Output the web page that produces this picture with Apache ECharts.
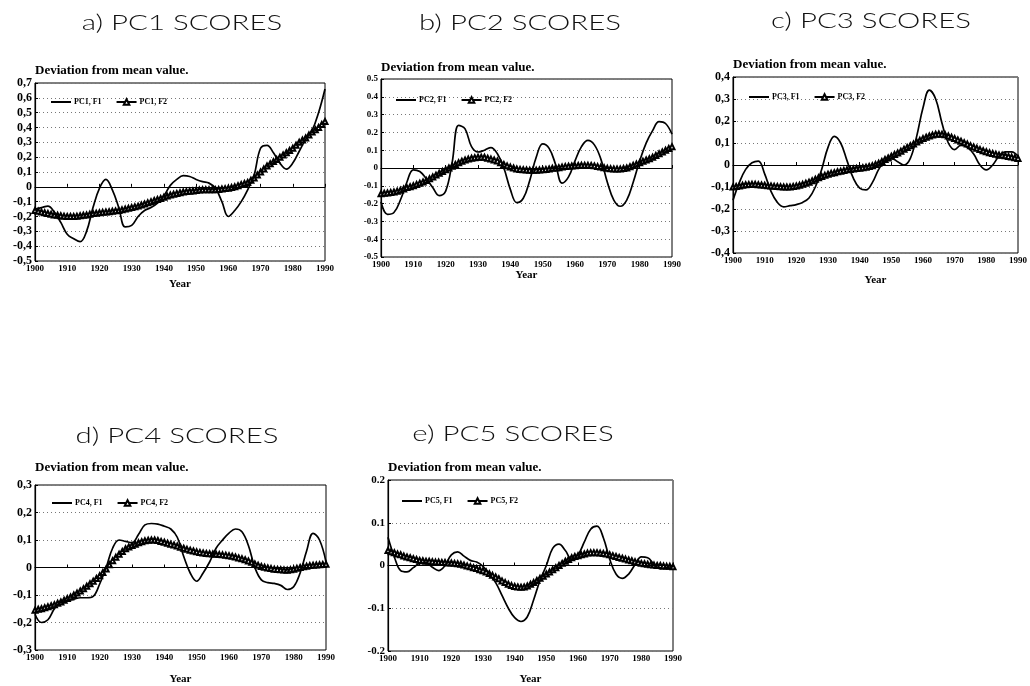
<!DOCTYPE html>
<html>
<head>
<meta charset="utf-8">
<script src="https://cdn.jsdelivr.net/npm/echarts@6/dist/echarts.min.js"></script>
<style>
  html, body { margin: 0; padding: 0; background: #ffffff; }
  #chart { width: 1030px; height: 686px; }
</style>
</head>
<body>
<div id="chart"></div>
<script>
// F1 curves are sampled every two years, F2 curves every year
const YEARS = [1900,1902,1904,1906,1908,1910,1912,1914,1916,1918,
               1920,1922,1924,1926,1928,1930,1932,1934,1936,1938,
               1940,1942,1944,1946,1948,1950,1952,1954,1956,1958,
               1960,1962,1964,1966,1968,1970,1972,1974,1976,1978,
               1980,1982,1984,1986,1988,1990];
const YEARS_ALL = [1900,1901,1902,1903,1904,1905,1906,1907,1908,1909,
                   1910,1911,1912,1913,1914,1915,1916,1917,1918,1919,
                   1920,1921,1922,1923,1924,1925,1926,1927,1928,1929,
                   1930,1931,1932,1933,1934,1935,1936,1937,1938,1939,
                   1940,1941,1942,1943,1944,1945,1946,1947,1948,1949,
                   1950,1951,1952,1953,1954,1955,1956,1957,1958,1959,
                   1960,1961,1962,1963,1964,1965,1966,1967,1968,1969,
                   1970,1971,1972,1973,1974,1975,1976,1977,1978,1979,
                   1980,1981,1982,1983,1984,1985,1986,1987,1988,1989,
                   1990];
const YEAR_TICKS = ['1900','1910','1920','1930','1940','1950','1960','1970','1980','1990'];

// PC1 scores (deviation from mean value)
const PC1_F1 = [-0.15,-0.14,-0.13,-0.17,-0.24,-0.32,-0.35,-0.37,-0.3,-0.14,
                -0.01,0.05,-0.02,-0.14,-0.27,-0.26,-0.2,-0.16,-0.14,-0.11,
                -0.06,0.01,0.05,0.075,0.07,0.05,0.035,0.025,-0.01,-0.1,
                -0.2,-0.16,-0.1,-0.02,0.08,0.26,0.28,0.23,0.16,0.12,
                0.16,0.24,0.32,0.38,0.5,0.66];
const PC1_F2 = [-0.16,-0.165,-0.17,-0.175,-0.18,-0.185,-0.19,-0.192,-0.195,-0.198,
                -0.2,-0.2,-0.2,-0.198,-0.195,-0.192,-0.19,-0.185,-0.18,-0.178,
                -0.175,-0.172,-0.17,-0.168,-0.165,-0.162,-0.16,-0.155,-0.15,-0.145,
                -0.14,-0.135,-0.13,-0.122,-0.115,-0.108,-0.1,-0.092,-0.085,-0.078,
                -0.07,-0.062,-0.055,-0.05,-0.045,-0.04,-0.035,-0.032,-0.03,-0.028,
                -0.025,-0.022,-0.02,-0.02,-0.02,-0.02,-0.02,-0.018,-0.015,-0.012,
                -0.01,-0.005,0.0,0.008,0.015,0.022,0.03,0.045,0.06,0.08,
                0.1,0.12,0.14,0.155,0.17,0.185,0.2,0.215,0.23,0.245,
                0.26,0.28,0.3,0.315,0.33,0.35,0.37,0.385,0.4,0.42,
                0.44];
const PC1_TICKS = ['-0,5','-0,4','-0,3','-0,2','-0,1','0','0,1','0,2','0,3','0,4','0,5','0,6','0,7'];

// PC2 scores
const PC2_F1 = [-0.19,-0.26,-0.25,-0.18,-0.08,-0.01,-0.02,-0.06,-0.11,-0.155,
                -0.13,0.03,0.24,0.22,0.12,0.09,0.1,0.115,0.08,0.0,
                -0.12,-0.195,-0.17,-0.07,0.06,0.135,0.11,0.02,-0.085,-0.05,
                0.04,0.12,0.155,0.13,0.05,-0.08,-0.18,-0.215,-0.18,-0.08,
                0.04,0.14,0.21,0.26,0.25,0.19];
const PC2_F2 = [-0.145,-0.142,-0.14,-0.138,-0.135,-0.13,-0.125,-0.118,-0.11,-0.105,
                -0.1,-0.092,-0.085,-0.078,-0.07,-0.06,-0.05,-0.04,-0.03,-0.02,
                -0.01,0.0,0.01,0.02,0.03,0.038,0.045,0.05,0.055,0.058,
                0.06,0.06,0.06,0.055,0.05,0.045,0.04,0.03,0.02,0.012,
                0.005,0.0,-0.005,-0.008,-0.01,-0.011,-0.012,-0.012,-0.012,-0.011,
                -0.01,-0.008,-0.005,-0.002,0.0,0.002,0.005,0.008,0.01,0.011,
                0.012,0.014,0.015,0.015,0.015,0.014,0.012,0.008,0.005,0.001,
                -0.002,-0.004,-0.005,-0.005,-0.005,-0.003,0.0,0.007,0.015,0.022,
                0.03,0.038,0.045,0.052,0.06,0.07,0.08,0.09,0.1,0.11,
                0.12];
const PC2_TICKS = ['-0.5','-0.4','-0.3','-0.2','-0.1','0','0.1','0.2','0.3','0.4','0.5'];

// PC3 scores
const PC3_F1 = [-0.16,-0.08,-0.02,0.01,0.018,-0.04,-0.12,-0.17,-0.19,-0.185,
                -0.18,-0.17,-0.15,-0.1,-0.02,0.08,0.13,0.1,0.02,-0.06,
                -0.105,-0.113,-0.08,-0.02,0.02,0.03,0.015,0.0,0.03,0.13,
                0.26,0.34,0.3,0.19,0.1,0.07,0.09,0.08,0.05,0.0,
                -0.022,0.0,0.04,0.06,0.06,0.04];
const PC3_F2 = [-0.1,-0.098,-0.095,-0.092,-0.09,-0.089,-0.088,-0.088,-0.09,-0.091,
                -0.092,-0.094,-0.095,-0.097,-0.098,-0.099,-0.1,-0.1,-0.1,-0.098,
                -0.095,-0.092,-0.088,-0.083,-0.078,-0.072,-0.065,-0.058,-0.052,-0.047,
                -0.042,-0.038,-0.035,-0.031,-0.028,-0.025,-0.022,-0.02,-0.018,-0.016,
                -0.015,-0.012,-0.01,-0.007,-0.003,0.002,0.008,0.016,0.025,0.032,
                0.04,0.048,0.055,0.063,0.072,0.08,0.088,0.096,0.105,0.112,
                0.12,0.126,0.132,0.136,0.14,0.141,0.14,0.137,0.132,0.126,
                0.12,0.114,0.108,0.101,0.095,0.088,0.082,0.076,0.07,0.065,
                0.06,0.056,0.052,0.049,0.046,0.044,0.042,0.039,0.036,0.033,
                0.03];
const PC3_TICKS = ['-0,4','-0,3','-0,2','-0,1','0','0,1','0,2','0,3','0,4'];

// PC4 scores
const PC4_F1 = [-0.17,-0.2,-0.19,-0.15,-0.125,-0.12,-0.115,-0.11,-0.11,-0.105,
                -0.06,0.0,0.07,0.1,0.095,0.09,0.12,0.155,0.16,0.158,
                0.15,0.14,0.11,0.04,-0.02,-0.05,-0.02,0.02,0.07,0.1,
                0.125,0.14,0.13,0.08,0.0,-0.045,-0.055,-0.058,-0.065,-0.08,
                -0.07,-0.02,0.06,0.124,0.1,0.02];
const PC4_F2 = [-0.155,-0.152,-0.15,-0.146,-0.143,-0.139,-0.135,-0.13,-0.125,-0.119,
                -0.113,-0.107,-0.1,-0.093,-0.085,-0.077,-0.068,-0.059,-0.05,-0.04,
                -0.03,-0.018,-0.005,0.01,0.025,0.037,0.048,0.058,0.068,0.075,
                0.08,0.085,0.09,0.094,0.097,0.099,0.1,0.1,0.098,0.095,
                0.092,0.088,0.085,0.082,0.078,0.074,0.07,0.066,0.063,0.06,
                0.057,0.055,0.053,0.051,0.05,0.049,0.048,0.047,0.046,0.045,
                0.043,0.041,0.038,0.035,0.032,0.028,0.024,0.019,0.013,0.008,
                0.004,0.001,-0.002,-0.004,-0.006,-0.007,-0.008,-0.009,-0.01,-0.008,
                -0.006,-0.003,0.0,0.003,0.005,0.007,0.008,0.009,0.01,0.011,
                0.012];
const PC4_TICKS = ['-0,3','-0,2','-0,1','0','0,1','0,2','0,3'];

// PC5 scores
const PC5_F1 = [0.066,0.02,-0.012,-0.015,-0.005,0.005,0.006,-0.004,-0.012,0.0,
                0.025,0.032,0.022,0.012,0.008,-0.002,-0.02,-0.04,-0.07,-0.1,
                -0.122,-0.131,-0.12,-0.08,-0.035,0.0,0.04,0.05,0.035,0.015,
                0.025,0.055,0.085,0.092,0.065,0.015,-0.02,-0.03,-0.02,0.002,
                0.02,0.018,0.003,-0.008,-0.005,-0.002];
const PC5_F2 = [0.035,0.032,0.03,0.027,0.025,0.022,0.02,0.018,0.016,0.014,
                0.012,0.011,0.01,0.01,0.009,0.008,0.008,0.007,0.007,0.006,
                0.006,0.005,0.004,0.003,0.001,-0.001,-0.003,-0.005,-0.007,-0.01,
                -0.012,-0.015,-0.019,-0.023,-0.027,-0.031,-0.036,-0.04,-0.044,-0.047,
                -0.049,-0.05,-0.051,-0.05,-0.048,-0.044,-0.04,-0.035,-0.03,-0.025,
                -0.02,-0.015,-0.01,-0.005,0.0,0.005,0.01,0.014,0.018,0.021,
                0.023,0.025,0.027,0.029,0.03,0.03,0.03,0.029,0.028,0.027,
                0.025,0.023,0.021,0.019,0.017,0.015,0.013,0.011,0.009,0.007,
                0.005,0.004,0.003,0.002,0.001,0.0,0.0,-0.001,-0.002,-0.002,
                -0.003];
const PC5_TICKS = ['-0.2','-0.1','0','0.1','0.2'];

const SERIF = "'Liberation Serif', 'DejaVu Serif', serif";
const LIGHT = "Lato, 'Open Sans', 'DejaVu Sans', sans-serif";
// plain horizontal stroke used as the legend icon of the F1 curves
const LINE_ICON = 'path://M0,0 L20,0 L20,2 L0,2 Z';

const panels = [
  { pc: 'PC1', title: 'a) PC1 SCORES', tx: 182, ty: 23, f1: PC1_F1, f2: PC1_F2, ticks: PC1_TICKS,
    min: -0.5, max: 0.7, box: { left: 35, top: 83, width: 290, height: 178 },
    yFont: 12, nameGap: 1, yearGap: 18, legend: { left: 51, top: 98 } },
  { pc: 'PC2', title: 'b) PC2 SCORES', tx: 520, ty: 23, f1: PC2_F1, f2: PC2_F2, ticks: PC2_TICKS,
    min: -0.5, max: 0.5, box: { left: 381, top: 79, width: 291, height: 178 },
    yFont: 9, nameGap: 1, yearGap: 13, legend: { left: 396, top: 96 } },
  { pc: 'PC3', title: 'c) PC3 SCORES', tx: 871, ty: 21, f1: PC3_F1, f2: PC3_F2, ticks: PC3_TICKS,
    min: -0.4, max: 0.4, box: { left: 733, top: 77, width: 287, height: 176 },
    yFont: 12, nameGap: 1, yearGap: 22, legend: { left: 749, top: 93 } },
  { pc: 'PC4', title: 'd) PC4 SCORES', tx: 177, ty: 436, f1: PC4_F1, f2: PC4_F2, ticks: PC4_TICKS,
    min: -0.3, max: 0.3, box: { left: 35, top: 485, width: 291, height: 176 },
    yFont: 12, nameGap: 11, yearGap: 24, legend: { left: 52, top: 499 } },
  { pc: 'PC5', title: 'e) PC5 SCORES', tx: 513, ty: 434, f1: PC5_F1, f2: PC5_F2, ticks: PC5_TICKS,
    min: -0.2, max: 0.2, box: { left: 388, top: 480, width: 285, height: 177 },
    yFont: 11, nameGap: 1, yearGap: 23, legend: { left: 402, top: 497 } }
];

const pairs = (xs, vals) => xs.map((y, i) => [y, vals[i]]);

const option = {
  animation: false,
  backgroundColor: '#ffffff',
  grid: [], xAxis: [], yAxis: [], series: [], legend: [], graphic: []
};

panels.forEach((p, k) => {
  option.grid.push(Object.assign({ show: true, borderColor: '#000', borderWidth: 1, backgroundColor: 'transparent' }, p.box));

  option.graphic.push({
    type: 'text', x: p.tx, y: p.ty, scaleX: 1.4, silent: true,
    style: { text: p.title, fill: '#111', font: '300 21px ' + LIGHT, align: 'center', verticalAlign: 'middle' }
  });

  option.xAxis.push({
    type: 'value', gridIndex: k, min: 1900, max: 1990, interval: 10,
    name: 'Year', nameLocation: 'middle', nameGap: p.yearGap,
    nameTextStyle: { fontFamily: SERIF, fontWeight: 'bold', fontSize: 11, color: '#000' },
    axisLine: { show: true, lineStyle: { color: '#000', width: 1.2 } },
    axisTick: { show: true, inside: true, length: 3, lineStyle: { color: '#000' } },
    axisLabel: {
      margin: 3, fontFamily: SERIF, fontWeight: 'bold', fontSize: 9, color: '#000',
      formatter: v => YEAR_TICKS[Math.round((v - 1900) / 10)]
    },
    splitLine: { show: false }
  });

  option.yAxis.push({
    type: 'value', gridIndex: k, min: p.min, max: p.max, interval: 0.1,
    name: 'Deviation from mean value.', nameLocation: 'end', nameGap: p.nameGap,
    nameTextStyle: { fontFamily: SERIF, fontWeight: 'bold', fontSize: 13, color: '#000', align: 'left' },
    axisLine: { show: true, lineStyle: { color: '#000', width: 1.2 } },
    axisTick: { show: true, inside: true, length: 3, lineStyle: { color: '#000' } },
    axisLabel: {
      margin: 3, fontFamily: SERIF, fontWeight: 'bold', fontSize: p.yFont, color: '#000',
      formatter: v => p.ticks[Math.round((v - p.min) / 0.1)]
    },
    splitLine: { show: true, lineStyle: { color: '#777', width: 1, type: [1, 3] } }
  });

  const n1 = p.pc + ', F1', n2 = p.pc + ', F2';
  option.legend.push({
    left: p.legend.left, top: p.legend.top, padding: 0, itemGap: 14,
    itemWidth: 20, itemHeight: 7, selectedMode: false,
    data: [{ name: n1, icon: LINE_ICON }, { name: n2 }],
    textStyle: { fontFamily: SERIF, fontWeight: 'bold', fontSize: 8, color: '#000', padding: [0, 0, 0, -2] }
  });

  option.series.push({
    name: n1, type: 'line', xAxisIndex: k, yAxisIndex: k,
    data: pairs(YEARS, p.f1), smooth: 0.4, symbol: 'none', z: 4,
    lineStyle: { color: '#000', width: 1.7 }, itemStyle: { color: '#000' },
    markLine: {
      silent: true, symbol: 'none', label: { show: false },
      lineStyle: { color: '#000', type: 'solid', width: 1 },
      data: [{ yAxis: 0 }]
    }
  });
  option.series.push({
    name: n2, type: 'line', xAxisIndex: k, yAxisIndex: k,
    data: pairs(YEARS_ALL, p.f2), smooth: 0.3, symbol: 'emptyTriangle', symbolSize: 5,
    showAllSymbol: true, z: 3,
    lineStyle: { color: '#000', width: 1.6 },
    itemStyle: { color: '#000', borderColor: '#000', borderWidth: 0.9 }
  });
});

const chart = echarts.init(document.getElementById('chart'), null, { renderer: 'canvas' });
chart.setOption(option);
</script>
</body>
</html>
